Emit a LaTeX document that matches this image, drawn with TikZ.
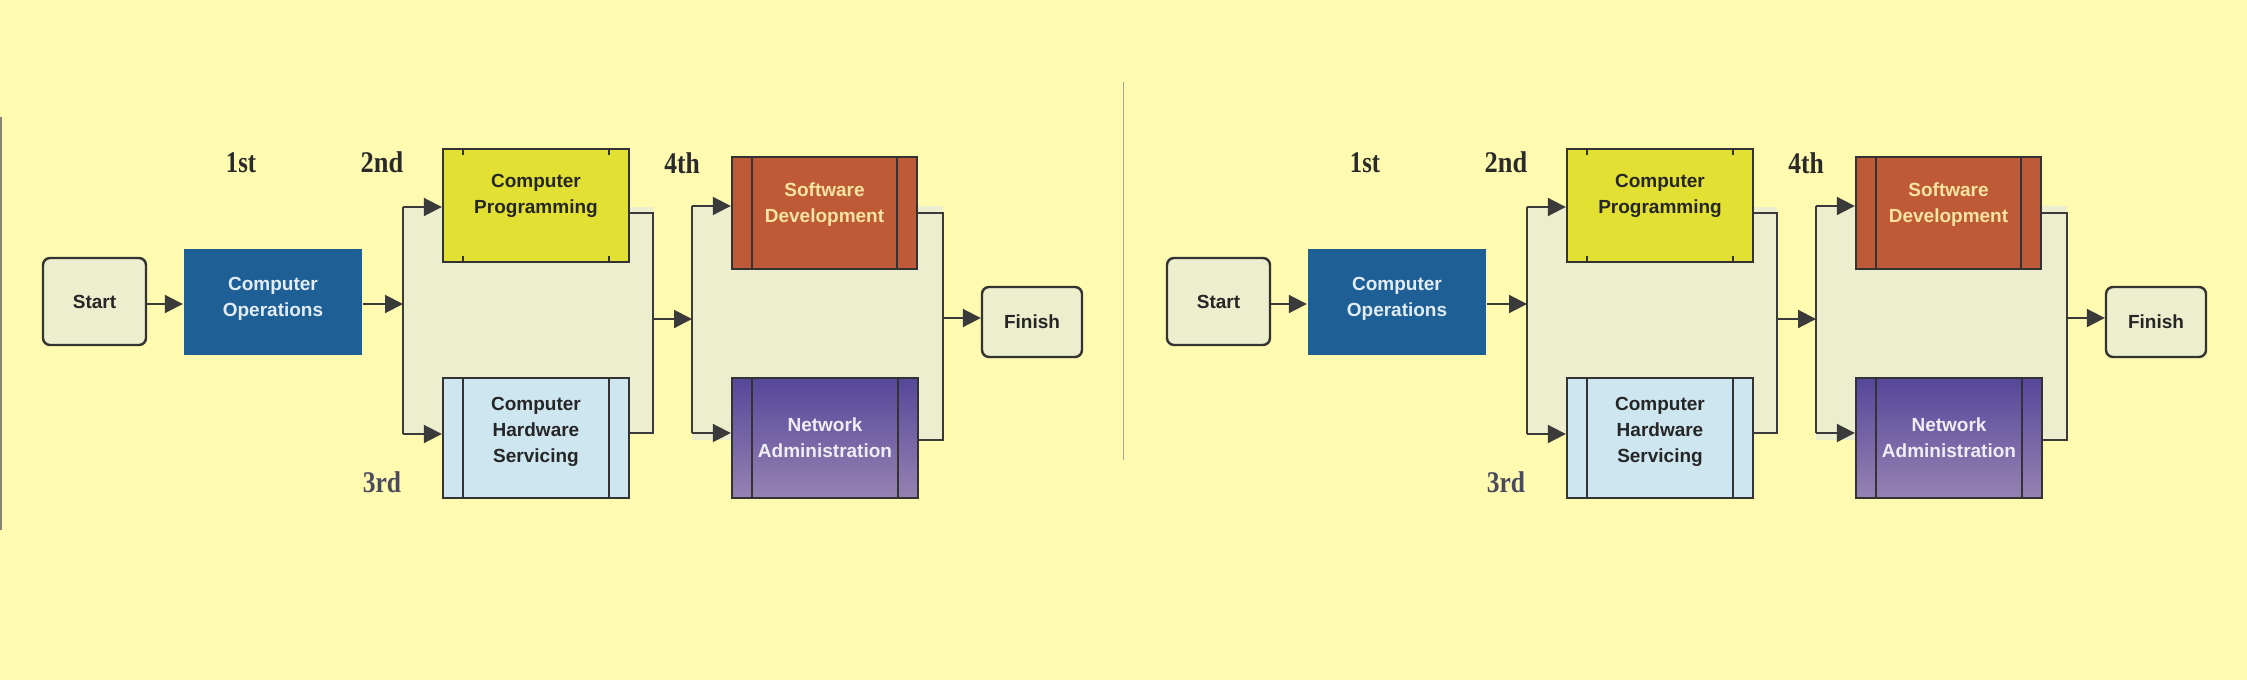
\documentclass[tikz,border=0pt]{standalone}
\usepackage{fontspec}
\usepackage{graphicx}
\setmainfont{Liberation Sans}
\newfontfamily\lblfont{Liberation Serif}
\usetikzlibrary{arrows.meta,calc}
\definecolor{bg}{HTML}{FEFAB0}
\definecolor{pale}{HTML}{ECEECD}
\definecolor{boxline}{HTML}{333333}
\definecolor{lineclr}{HTML}{3A3A3A}
\definecolor{coblue}{HTML}{1E5F96}
\definecolor{cpyellow}{HTML}{E2E032}
\definecolor{chsblue}{HTML}{CDE6F0}
\definecolor{sdred}{HTML}{BE5A38}
\definecolor{napurple}{HTML}{56479A}
\definecolor{napurplelight}{HTML}{9582B2}
\definecolor{lblclr}{HTML}{2A2A2A}
\definecolor{lbl3}{HTML}{4A4A5E}
\definecolor{cotext}{HTML}{E2ECF2}
\definecolor{sdtext}{HTML}{F6E4A0}
\definecolor{natext}{HTML}{EEEEF2}
\definecolor{sep}{HTML}{A8A690}
\tikzset{
  box/.style={draw=boxline, line width=1.2pt, inner sep=0pt, align=center,
    text=black!85, font=\bfseries\fontsize{9.5}{13}\selectfont},
  term/.style={box, rounded corners=3.5pt, fill=pale},
  conn/.style={draw=lineclr, line width=1pt},
  arr/.style={conn, -{Triangle[length=9pt,width=9pt]}},
  lbl/.style={font=\lblfont\bfseries\fontsize{15}{15}\selectfont, text=lblclr, inner sep=0pt},
  inner/.style={draw=boxline, line width=0.9pt}
}
\newcommand\flowcopy[1]{%
  % pale background of the two parallel blocks
  \fill[pale] (403,207) rectangle (653,434);
  \fill[pale] (692,206) rectangle (943,440);
  % nodes
  \node[term, minimum width=51.5pt, minimum height=43.5pt] (#1start) at (94.5,301.5) {Start};
  \node[box, draw=none, fill=coblue, text=cotext, minimum width=89pt, minimum height=53pt, text depth=5pt] (#1co) at (273,302) {Computer\\Operations};
  \node[box, fill=cpyellow, minimum width=93pt, minimum height=56.5pt, text depth=12pt] (#1cp) at (536,205.5) {Computer\\Programming};
  \node[box, fill=chsblue, minimum width=93pt, minimum height=60pt, text depth=8.5pt] (#1chs) at (536,438) {Computer\\Hardware\\Servicing};
  \node[box, fill=sdred, text=sdtext, minimum width=92.5pt, minimum height=56pt, text depth=10.5pt] (#1sd) at (824.5,213) {Software\\Development};
  \node[box, top color=napurple, middle color=napurple, bottom color=napurplelight, text=natext, minimum width=93pt, minimum height=60pt] (#1na) at (825,438) {Network\\Administration};
  \node[term, minimum width=50pt, minimum height=35pt] (#1fin) at (1032,322) {Finish};
  % labels
  \node[lbl] (#1l1) at (241,163) {\scalebox{0.82}[1]{1st}};
  \node[lbl] (#1l2) at (382,162) {\scalebox{0.88}[1]{2nd}};
  \node[lbl, text=lbl3] (#1l3) at (382,482) {\scalebox{0.85}[1]{3rd}};
  \node[lbl] (#1l4) at (682,163) {\scalebox{0.85}[1]{4th}};
  % inner vertical lines
  \draw[inner] (#1cp.north west) ++(21,0) -- ++(0,7);
  \draw[inner] (#1cp.north east) ++(-21,0) -- ++(0,7);
  \draw[inner] (#1cp.south west) ++(21,0) -- ++(0,-7);
  \draw[inner] (#1cp.south east) ++(-21,0) -- ++(0,-7);
  \foreach \n in {chs,sd,na}{
    \draw[inner] (#1\n.north west) ++(21,0) -- ($(#1\n.south west)+(21,0)$);
    \draw[inner] (#1\n.north east) ++(-21,0) -- ($(#1\n.south east)+(-21,0)$);
  }
  % junction coordinates
  \coordinate (#1ja) at (403,207);
  \coordinate (#1jb) at (403,434);
  \coordinate (#1jc) at (653,213);
  \coordinate (#1jd) at (653,433);
  \coordinate (#1je) at (692,206);
  \coordinate (#1jf) at (692,433);
  \coordinate (#1jg) at (943,213);
  \coordinate (#1jh) at (943,440);
  % connectors
  \draw[arr] (#1start.east |- 0,304) -- (#1co.west |- 0,304);
  \draw[arr] (#1co.east |- 0,304) -- (#1ja |- 0,304);
  \draw[conn] (#1ja) -- (#1jb);
  \draw[arr] (#1ja) -- (#1ja -| #1cp.west);
  \draw[arr] (#1jb) -- (#1jb -| #1chs.west);
  \draw[conn] (#1jc -| #1cp.east) -- (#1jc) -- (#1jd) -- (#1jd -| #1chs.east);
  \draw[arr] (#1jc |- 0,319) -- (#1je |- 0,319);
  \draw[conn] (#1je) -- (#1jf);
  \draw[arr] (#1je) -- (#1je -| #1sd.west);
  \draw[arr] (#1jf) -- (#1jf -| #1na.west);
  \draw[conn] (#1jg -| #1sd.east) -- (#1jg) -- (#1jh) -- (#1jh -| #1na.east);
  \draw[arr] (#1jg |- 0,318) -- (#1fin.west |- 0,318);
}
\begin{document}
\begin{tikzpicture}[x=0.5pt,y=-0.5pt]
  \useasboundingbox (0,0) rectangle (2247,680);
  \fill[bg] (0,0) rectangle (2247,680);
  \draw[sep, line width=0.5pt] (1123,82) -- (1123,460);
  \draw[sep!80!black, line width=0.8pt] (1,117) -- (1,530);
  \flowcopy{a}
  \begin{scope}[xshift=562pt]
    \flowcopy{b}
  \end{scope}
\end{tikzpicture}
\end{document}
